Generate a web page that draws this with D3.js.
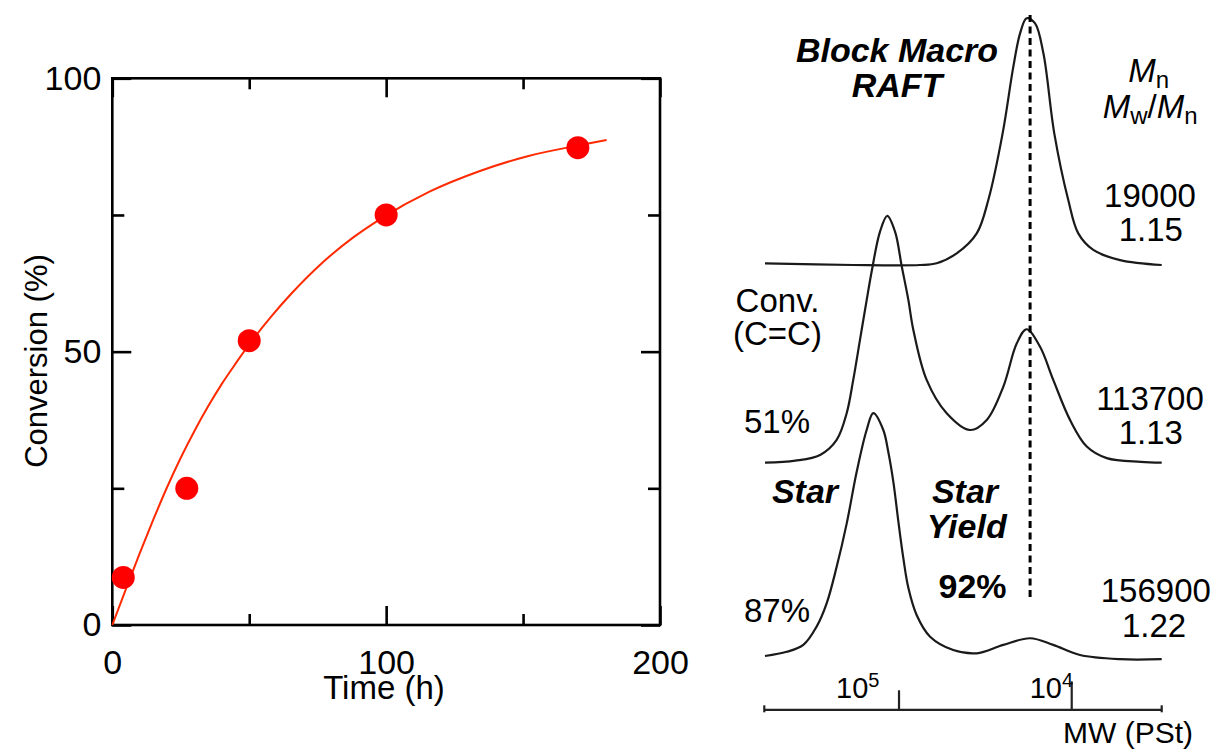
<!DOCTYPE html>
<html>
<head>
<meta charset="utf-8">
<script src="https://cdn.jsdelivr.net/npm/d3@7"></script>
<style>
  body { margin: 0; background: #fff; }
</style>
</head>
<body>
<div id="chart"></div>
<script>
// ---- left panel data: conversion vs time ----
const timeH = [4, 27.2, 50, 100, 170];
const conversion = [8.7, 25, 52, 75, 87.3];
// fitted curve
const fitTime = [0, 5, 10, 15, 20, 25, 30, 35, 40, 45, 51, 58, 65, 77, 88, 98, 116, 134, 152, 170, 180.5];
const fitConv = [0, 6.6, 13.1, 19.3, 25.2, 30.6, 35.5, 40, 44.1, 47.8, 52, 56.4, 60.4, 66.4, 70.9, 74.3, 79.3, 83, 85.8, 87.7, 88.7];
const timeMajor = [0, 100, 200];
const timeMinor = [50, 150];
const convMajor = [0, 50, 100];
const convMinor = [25, 75];

// ---- right panel data: GPC traces (log10 MW, signal above own baseline) ----
const macroLogMW = [5.776, 5.265, 4.878, 4.782, 4.666, 4.550, 4.483, 4.400, 4.338, 4.299, 4.261, 4.213, 4.164, 4.101, 4.020, 3.962, 3.875, 3.720, 3.479];
const macroSignal = [0.7, 0, 0, 0.7, 4.7, 12.8, 26.3, 53.3, 80.3, 93.8, 99.9, 97.9, 85.7, 53.3, 26.3, 12.8, 6.1, 2.0, 0];

const conv51LogMW = [5.776, 5.600, 5.457, 5.361, 5.303, 5.265, 5.226, 5.187, 5.158, 5.110, 5.068, 5.023, 4.984, 4.946, 4.917, 4.840, 4.724, 4.589, 4.492, 4.396, 4.318, 4.261, 4.184, 4.107, 4.010, 3.913, 3.797, 3.600, 3.479];
const conv51Signal = [0, 0.8, 3.1, 9.2, 20.0, 33.5, 49.7, 65.9, 77.5, 93.5, 99.9, 93.5, 79.4, 65.9, 53.7, 33.5, 20.0, 13.2, 17.3, 30.8, 48.3, 54.0, 47.0, 33.5, 17.3, 6.5, 1.8, 0.3, 0];

const conv87LogMW = [5.776, 5.650, 5.554, 5.477, 5.419, 5.361, 5.303, 5.245, 5.187, 5.149, 5.091, 5.062, 5.033, 5.004, 4.975, 4.946, 4.898, 4.820, 4.686, 4.550, 4.396, 4.241, 4.107, 3.952, 3.720, 3.479];
const conv87Signal = [0.4, 2.1, 4.9, 12.3, 21.7, 36.5, 54, 75, 92, 98.7, 91.9, 83, 71, 55, 40, 28, 17, 8.2, 2.8, 1.5, 4.9, 7.6, 4.9, 0.8, -0.9, -0.9];

const traceOffsets = [158.7, 78.7, 0];
const macroPeakLogMW = 4.241;
const mwTicks = [5, 4];

window.onload = function () {
  const width = 1218;
  const height = 753;
  const font = "'Liberation Sans', Arial, Helvetica, sans-serif";

  const svg = d3.select("#chart")
    .append("svg")
    .attr("width", width)
    .attr("height", height)
    .style("font-family", font);

  // ================= left panel =================
  const x = d3.scaleLinear().domain([0, 200]).range([112.3, 660]);
  const y = d3.scaleLinear().domain([0, 100]).range([625, 78.3]);

  const left = svg.append("g");

  // inward ticks on all four sides
  function ticks(axisFn, scale, values, size, pos, labels) {
    const ax = axisFn(scale).tickValues(values).tickSizeInner(-size).tickSizeOuter(0);
    if (!labels) ax.tickFormat("");
    const g = left.append("g").attr("transform", pos).call(ax);
    g.select(".domain").remove();
    g.selectAll(".tick line").attr("stroke", "#000").attr("stroke-width", 2.6);
    return g;
  }
  const bx = ticks(d3.axisBottom, x, timeMajor, 19, `translate(0,${y(0)})`, true);
  ticks(d3.axisBottom, x, timeMinor, 11, `translate(0,${y(0)})`, false);
  ticks(d3.axisTop, x, timeMajor, 19, `translate(0,${y(100)})`, false);
  ticks(d3.axisTop, x, timeMinor, 11, `translate(0,${y(100)})`, false);
  const ly = ticks(d3.axisLeft, y, convMajor, 19, `translate(${x(0)},0)`, true);
  ticks(d3.axisLeft, y, convMinor, 12, `translate(${x(0)},0)`, false);
  ticks(d3.axisRight, y, convMajor, 19, `translate(${x(200)},0)`, false);
  ticks(d3.axisRight, y, convMinor, 12, `translate(${x(200)},0)`, false);

  bx.selectAll(".tick text")
    .attr("y", 25)
    .style("font-size", "34px")
    .style("font-family", font)
    .attr("fill", "#000");
  ly.selectAll(".tick text")
    .attr("x", -11)
    .style("font-size", "34px")
    .style("font-family", font)
    .attr("fill", "#000");

  // frame
  left.append("rect")
    .attr("x", x(0))
    .attr("y", y(100))
    .attr("width", x(200) - x(0))
    .attr("height", y(0) - y(100))
    .attr("fill", "none")
    .attr("stroke", "#000")
    .attr("stroke-width", 2.6);

  // fitted curve
  const fitLine = d3.line()
    .x((d, i) => x(fitTime[i]))
    .y((d) => y(d))
    .curve(d3.curveMonotoneX);
  left.append("path")
    .attr("d", fitLine(fitConv))
    .attr("fill", "none")
    .attr("stroke", "#ff2a00")
    .attr("stroke-width", 2);

  // data points
  left.selectAll("circle.pt")
    .data(conversion)
    .join("circle")
    .attr("class", "pt")
    .attr("cx", (d, i) => x(timeH[i]))
    .attr("cy", (d) => y(d))
    .attr("r", 11.5)
    .attr("fill", "#ff0000");

  // axis titles
  left.append("text")
    .attr("x", 384)
    .attr("y", 699)
    .attr("text-anchor", "middle")
    .style("font-size", "33px")
    .text("Time (h)");

  left.append("text")
    .attr("transform", "translate(36,361) rotate(-90)")
    .attr("text-anchor", "middle")
    .attr("dominant-baseline", "central")
    .style("font-size", "31px")
    .text("Conversion (%)");

  // ================= right panel =================
  const xR = d3.scaleLinear().domain([5.78, 3.479]).range([764.3, 1161.7]);
  const yR = d3.scaleLinear().domain([0, 100]).range([657, 410]);

  const right = svg.append("g");

  const traces = [
    { lmw: macroLogMW, sig: macroSignal },
    { lmw: conv51LogMW, sig: conv51Signal },
    { lmw: conv87LogMW, sig: conv87Signal }
  ];

  traces.forEach((t, k) => {
    const line = d3.line()
      .x((d, i) => xR(t.lmw[i]))
      .y((d) => yR(d + traceOffsets[k]))
      .curve(d3.curveCatmullRom.alpha(0.5));
    right.append("path")
      .attr("d", line(t.sig))
      .attr("fill", "none")
      .attr("stroke", "#1a1a1a")
      .attr("stroke-width", 2.2);
  });

  // dotted line at macro RAFT peak
  right.append("line")
    .attr("x1", xR(macroPeakLogMW))
    .attr("x2", xR(macroPeakLogMW))
    .attr("y1", 15)
    .attr("y2", 600)
    .attr("stroke", "#000")
    .attr("stroke-width", 3)
    .attr("stroke-dasharray", "7,4.5");

  // MW axis
  const axY = 709.3;
  const mwAxis = right.append("g")
    .attr("transform", `translate(0,${axY})`)
    .call(d3.axisBottom(xR).tickValues([]).tickSizeOuter(0));
  mwAxis.select(".domain").attr("stroke", "#222").attr("stroke-width", 2.2);

  const tickLen = [19, 28];
  right.selectAll("line.mwtick")
    .data(mwTicks)
    .join("line")
    .attr("class", "mwtick")
    .attr("x1", (d) => xR(d))
    .attr("x2", (d) => xR(d))
    .attr("y1", axY)
    .attr("y2", (d, i) => axY - tickLen[i])
    .attr("stroke", "#222")
    .attr("stroke-width", 2.2);

  right.selectAll("line.mwend")
    .data(xR.domain())
    .join("line")
    .attr("class", "mwend")
    .attr("x1", (d) => xR(d))
    .attr("x2", (d) => xR(d))
    .attr("y1", axY - 4)
    .attr("y2", axY + 3)
    .attr("stroke", "#222")
    .attr("stroke-width", 2.2);

  const labelStart = [-63, -42];
  mwTicks.forEach((v, i) => {
    const t = right.append("text")
      .attr("x", xR(v) + labelStart[i])
      .attr("y", 698.3)
      .style("font-size", "29px");
    t.append("tspan").text("10");
    t.append("tspan")
      .attr("dy", -11)
      .style("font-size", "20px")
      .text(String(v));
  });

  right.append("text")
    .attr("x", 1128)
    .attr("y", 743.3)
    .attr("text-anchor", "middle")
    .style("font-size", "30px")
    .text("MW (PSt)");

  // annotations
  function label(txt, cx, by, opts) {
    const o = opts || {};
    return right.append("text")
      .attr("x", cx)
      .attr("y", by)
      .attr("text-anchor", "middle")
      .style("font-size", (o.size || 33) + "px")
      .style("font-weight", o.bold ? "bold" : "normal")
      .style("font-style", o.italic ? "italic" : "normal")
      .text(txt);
  }

  label("Block Macro", 897, 62.3, { bold: true, italic: true, size: 34 });
  label("RAFT", 897, 96.7, { bold: true, italic: true, size: 34 });

  // Mn and Mw/Mn header
  const mn = right.append("text").attr("x", 1128.3).attr("y", 81.7).style("font-size", "33px");
  mn.append("tspan").style("font-style", "italic").text("M");
  mn.append("tspan").attr("dy", 6).style("font-size", "24px").text("n");

  const mw = right.append("text").attr("x", 1102.7).attr("y", 118).style("font-size", "33px");
  mw.append("tspan").style("font-style", "italic").text("M");
  mw.append("tspan").attr("dy", 6).style("font-size", "24px").text("w");
  mw.append("tspan").attr("dy", -6).text("/");
  mw.append("tspan").style("font-style", "italic").text("M");
  mw.append("tspan").attr("dy", 6).style("font-size", "24px").text("n");

  label("19000", 1150, 206.7);
  label("1.15", 1150.8, 240.7);
  label("113700", 1150, 410);
  label("1.13", 1150.8, 444);
  label("156900", 1155.8, 601.7);
  label("1.22", 1154, 636.7);

  label("Conv.", 777.5, 311.7);
  label("(C=C)", 777.5, 345);
  label("51%", 777, 433.3);
  label("87%", 777, 621.7);

  label("Star", 805, 502.7, { bold: true, italic: true, size: 34 });
  label("Star", 965, 502.7, { bold: true, italic: true, size: 34 });
  label("Yield", 966.7, 538.3, { bold: true, italic: true, size: 34 });
  label("92%", 972.5, 598.3, { bold: true, size: 34 });
};
</script>
</body>
</html>
